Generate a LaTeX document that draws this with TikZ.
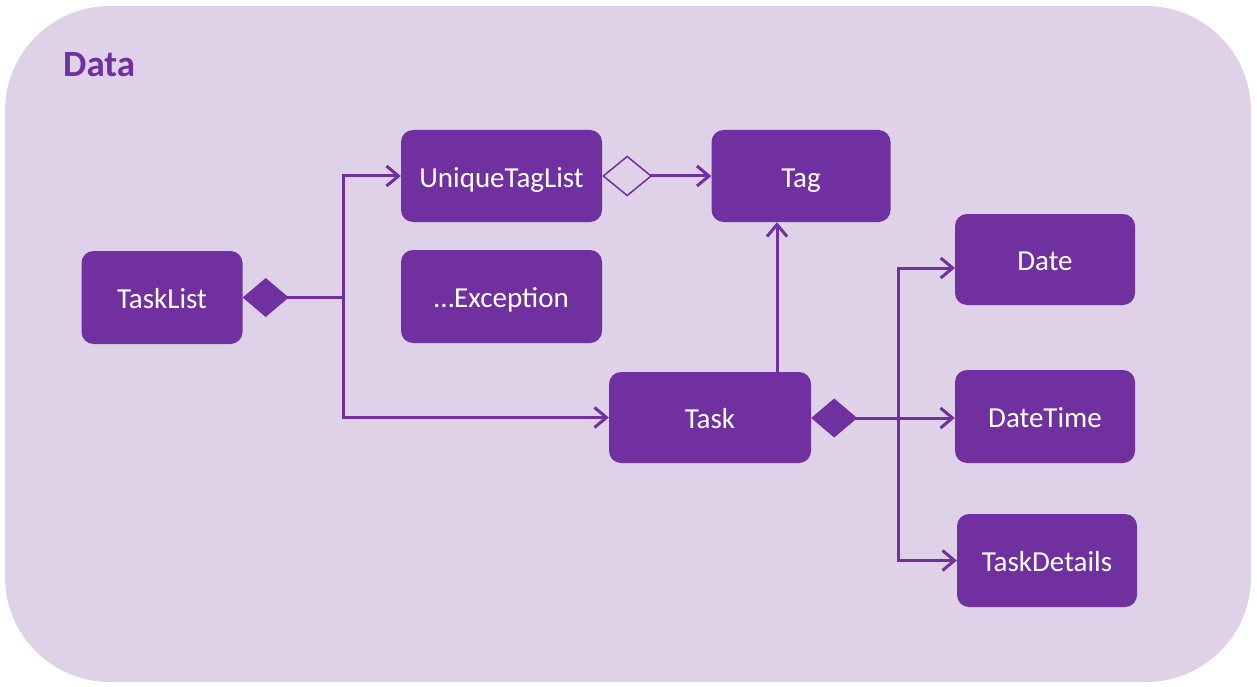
\documentclass[tikz,border=0pt]{standalone}
\usepackage{fontspec}
\setmainfont{Carlito}
\usetikzlibrary{arrows.meta}
\definecolor{boxpurple}{HTML}{7030A0}
\definecolor{bgpurple}{HTML}{DFD2E8}

\begin{document}
\begin{tikzpicture}[x=1pt, y=-1pt,
	cls/.style={fill=boxpurple, text=white, rounded corners=12pt, inner sep=0pt, text height=22pt, text depth=0pt, minimum width=180pt, minimum height=92pt, font=\fontsize{29}{34}\selectfont},
	link/.style={draw=boxpurple, line width=3pt},
	arr/.style={link, -{Straight Barb[length=12pt, width=20pt]}},
	comp/.style={link, {Diamond[length=46pt, width=39pt]}-},
	aggr/.style={link, {Diamond[open, length=50pt, width=41pt, line width=1.5pt]}-{Straight Barb[length=12pt, width=20pt]}}]
	\useasboundingbox (0,0) rectangle (1257,687);
	\fill[bgpurple, rounded corners=105pt] (5,6) rectangle (1251,682);
	\node[anchor=base west, inner sep=0pt, text=boxpurple, font=\fontsize{37}{44}\selectfont\bfseries] (data) at (63,77) {Data};

	\node[cls, minimum width=161pt, minimum height=93pt] (tasklist) at (162,297.5) {TaskList};
	\node[cls, minimum width=201pt] (utl) at (501.5,176) {UniqueTagList};
	\node[cls, minimum width=201pt, minimum height=93pt] (exc) at (501.5,296.5) {…Exception};
	\node[cls, minimum width=179pt] (tag) at (801,176) {Tag};
	\node[cls, minimum width=202pt, minimum height=91pt] (task) at (710,417.5) {Task};
	\node[cls, minimum height=91pt] (date) at (1045,259.5) {Date};
	\node[cls, minimum height=93pt] (datetime) at (1045,416.5) {DateTime};
	\node[cls, minimum height=93pt] (details) at (1047,560.5) {TaskDetails};

	\coordinate (tl-split) at (343,297.5);
	\coordinate (task-split) at (898,418);
	\coordinate (tag-in) at (777,222);
	\coordinate (date-in) at (955,268);

	\draw[comp] (tasklist.east) -- (tl-split);
	\draw[arr] (tl-split) |- (utl.west);
	\draw[arr] (tl-split) |- (task.west);
	\draw[aggr] (utl.east) -- (tag.west);
	\draw[arr] (tag-in |- task.north) -- (tag-in |- tag.south);
	\draw[comp] (task.east |- task-split) -- (task-split);
	\draw[arr] (task-split) |- (date-in);
	\draw[arr] (task-split) -- (datetime.west |- task-split);
	\draw[arr] (task-split) |- (details.west);
\end{tikzpicture}
\end{document}
